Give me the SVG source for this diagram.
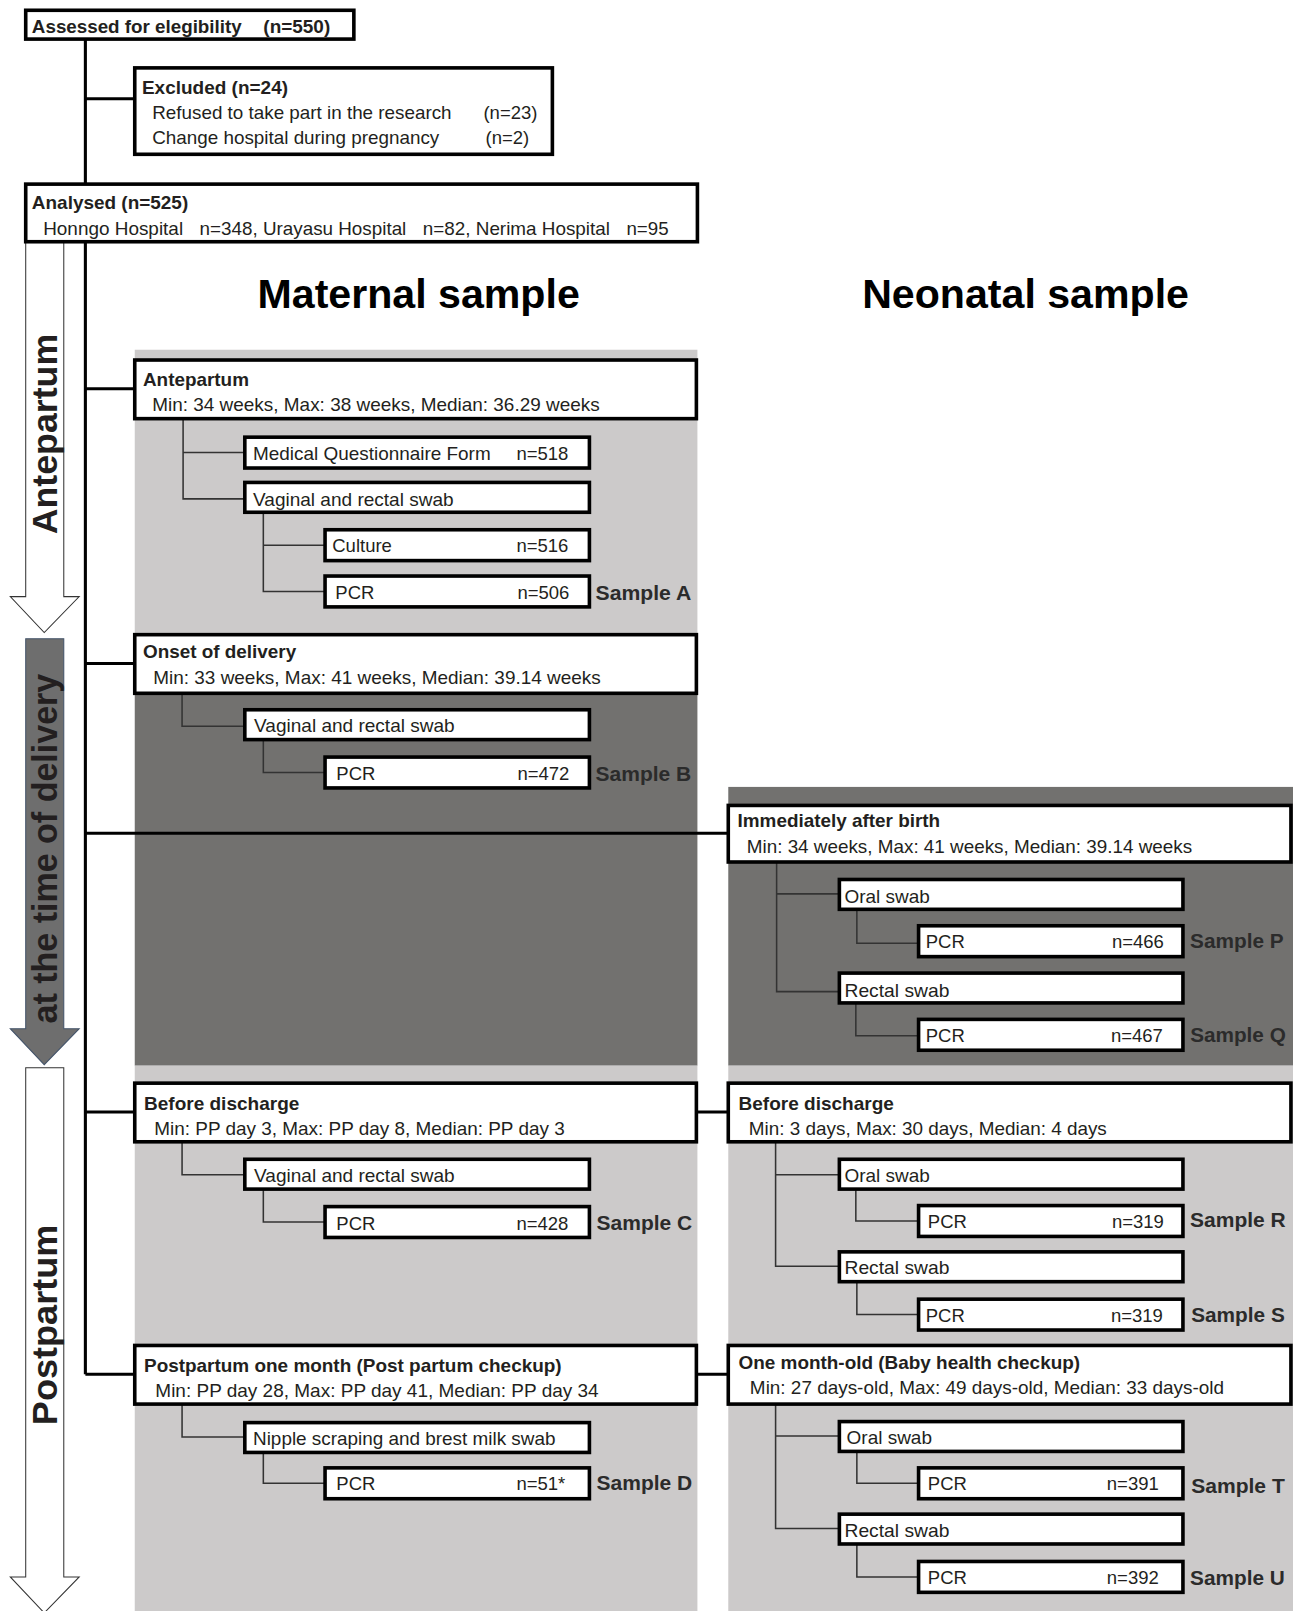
<svg xmlns="http://www.w3.org/2000/svg" width="1293" height="1611" viewBox="0 0 1293 1611">
<style>
text{font-family:"Liberation Sans",Arial,sans-serif;fill:#231f20}
.t{font-size:18px;font-weight:bold}
.s{font-size:18px}
.lab{font-size:20px;font-weight:bold;fill:#2b2b2b}
.hd{font-size:40px;font-weight:bold;fill:#000}
.vt{font-size:34px;font-weight:bold}
.box{fill:#fff;stroke:#000;stroke-width:3.5}
.main{fill:none;stroke:#000;stroke-width:3}
.thin{fill:none;stroke:#333;stroke-width:1.5}
.lg{fill:#cccaca}
.dg{fill:#72716f}
</style>
<rect width="1293" height="1611" fill="#fff"/>
<g transform="scale(1.02864)">
<g id="backgrounds">
<rect class="lg" x="131" y="340" width="547" height="305"/>
<rect class="dg" x="131" y="645" width="547" height="391"/>
<rect class="lg" x="131" y="1036" width="547" height="540"/>
<rect class="dg" x="708" y="765" width="560" height="271"/>
<rect class="lg" x="708" y="1036" width="560" height="540"/>
</g>
<g id="timeline">
<path d="M25,235 V580 H10 L43,615 L77,580 H62 V235" fill="#fff" stroke="#333" stroke-width="1"/>
<text class="vt" transform="translate(55,422) rotate(-90)" text-anchor="middle" textLength="195" lengthAdjust="spacingAndGlyphs">Antepartum</text>
<path d="M25,621 V1000 H10 L43,1035 L77,1000 H62 V621 Z" fill="#6e6e6e" stroke="#44546a" stroke-width="1"/>
<text class="vt" transform="translate(55,825) rotate(-90)" text-anchor="middle" textLength="340" lengthAdjust="spacingAndGlyphs">at the time of delivery</text>
<path d="M25,1038 V1533 H10 L43,1568 L77,1533 H62 V1038 Z" fill="#fff" stroke="#333" stroke-width="1"/>
<text class="vt" transform="translate(55,1288) rotate(-90)" text-anchor="middle" textLength="195" lengthAdjust="spacingAndGlyphs">Postpartum</text>
</g>
<g id="headings">
<text class="hd" x="407" y="299" text-anchor="middle">Maternal sample</text>
<text class="hd" x="997" y="299" text-anchor="middle">Neonatal sample</text>
</g>
<g id="connectors">
<path class="main" d="M83,38 V1336"/>
<path class="main" d="M83,96 H131"/>
<path class="main" d="M83,378 H131"/>
<path class="main" d="M83,645 H131"/>
<path class="main" d="M83,810 H708"/>
<path class="main" d="M83,1081 H131 M677,1081 H708"/>
<path class="main" d="M83,1336 H131 M677,1336 H708"/>
<path class="thin" d="M178,407 V485 H238 M178,440 H238"/>
<path class="thin" d="M256,498 V575 H316 M256,530 H316"/>
<path class="thin" d="M177,674 V706 H238"/>
<path class="thin" d="M256,719 V751 H316"/>
<path class="thin" d="M755,838 V964 H816 M755,869 H816"/>
<path class="thin" d="M833,884 V917 H893"/>
<path class="thin" d="M832,975 V1007 H893"/>
<path class="thin" d="M177,1110 V1142 H238"/>
<path class="thin" d="M256,1156 V1188 H316"/>
<path class="thin" d="M754,1110 V1231 H816 M754,1142 H816"/>
<path class="thin" d="M832,1156 V1187 H893"/>
<path class="thin" d="M833,1246 V1278 H893"/>
<path class="thin" d="M177,1365 V1397 H238"/>
<path class="thin" d="M256,1412 V1442 H316"/>
<path class="thin" d="M754,1365 V1486 H816 M754,1396 H816"/>
<path class="thin" d="M833,1411 V1442 H893"/>
<path class="thin" d="M833,1501 V1533 H893"/>
</g>
<g id="assessed">
<rect class="box" x="25" y="10" width="319" height="28"/>
<text class="t" x="31" y="32" font-size="17" textLength="204" lengthAdjust="spacingAndGlyphs">Assessed for elegibility</text>
<text class="t" x="256" y="32" textLength="65" lengthAdjust="spacingAndGlyphs">(n=550)</text>
</g>
<g id="excluded">
<rect class="box" x="131" y="66" width="406" height="84"/>
<text class="t" x="138" y="91" textLength="142" lengthAdjust="spacingAndGlyphs">Excluded (n=24)</text>
<text class="s" x="148" y="116" textLength="291" lengthAdjust="spacingAndGlyphs">Refused to take part in the research</text>
<text class="s" x="470" y="116">(n=23)</text>
<text class="s" x="148" y="140" textLength="279" lengthAdjust="spacingAndGlyphs">Change hospital during pregnancy</text>
<text class="s" x="472" y="140">(n=2)</text>
</g>
<g id="analysed">
<rect class="box" x="25" y="179" width="653" height="56"/>
<text class="t" x="31" y="203" textLength="152" lengthAdjust="spacingAndGlyphs">Analysed (n=525)</text>
<text class="s" x="42" y="228" textLength="136" lengthAdjust="spacingAndGlyphs">Honngo Hospital</text>
<text class="s" x="194" y="228" textLength="201" lengthAdjust="spacingAndGlyphs">n=348, Urayasu Hospital</text>
<text class="s" x="411" y="228" textLength="182" lengthAdjust="spacingAndGlyphs">n=82, Nerima Hospital</text>
<text class="s" x="609" y="228" textLength="41" lengthAdjust="spacingAndGlyphs">n=95</text>
</g>
<g id="antepartum">
<rect class="box" x="131" y="350" width="546" height="57"/>
<text class="t" x="139" y="375" textLength="103" lengthAdjust="spacingAndGlyphs">Antepartum</text>
<text class="s" x="148" y="400" textLength="435" lengthAdjust="spacingAndGlyphs">Min: 34 weeks, Max: 38 weeks, Median: 36.29 weeks</text>
</g>
<g id="questionnaire">
<rect class="box" x="238" y="425" width="335" height="30"/>
<text class="s" x="246" y="447" textLength="231" lengthAdjust="spacingAndGlyphs">Medical Questionnaire Form</text>
<text class="s" x="502" y="447">n=518</text>
</g>
<g id="swabA">
<rect class="box" x="238" y="469" width="335" height="29"/>
<text class="s" x="246" y="492" textLength="195" lengthAdjust="spacingAndGlyphs">Vaginal and rectal swab</text>
</g>
<g id="culture">
<rect class="box" x="316" y="515" width="257" height="30"/>
<text class="s" x="323" y="537">Culture</text>
<text class="s" x="502" y="537">n=516</text>
</g>
<g id="pcrA">
<rect class="box" x="316" y="560" width="257" height="30"/>
<text class="s" x="326" y="582">PCR</text>
<text class="s" x="503" y="582">n=506</text>
<text class="lab" x="579" y="583" textLength="93" lengthAdjust="spacingAndGlyphs">Sample A</text>
</g>
<g id="onset">
<rect class="box" x="131" y="617" width="546" height="57"/>
<text class="t" x="139" y="640" textLength="149" lengthAdjust="spacingAndGlyphs">Onset of delivery</text>
<text class="s" x="149" y="665" textLength="435" lengthAdjust="spacingAndGlyphs">Min: 33 weeks, Max: 41 weeks, Median: 39.14 weeks</text>
</g>
<g id="swabB">
<rect class="box" x="238" y="690" width="335" height="29"/>
<text class="s" x="247" y="712" textLength="195" lengthAdjust="spacingAndGlyphs">Vaginal and rectal swab</text>
</g>
<g id="pcrB">
<rect class="box" x="316" y="736" width="257" height="30"/>
<text class="s" x="327" y="758">PCR</text>
<text class="s" x="503" y="758">n=472</text>
<text class="lab" x="579" y="759" textLength="93" lengthAdjust="spacingAndGlyphs">Sample B</text>
</g>
<g id="birth">
<rect class="box" x="708" y="783" width="547" height="55"/>
<text class="t" x="717" y="804" textLength="197" lengthAdjust="spacingAndGlyphs">Immediately after birth</text>
<text class="s" x="726" y="829" textLength="433" lengthAdjust="spacingAndGlyphs">Min: 34 weeks, Max: 41 weeks, Median: 39.14 weeks</text>
</g>
<g id="oralP">
<rect class="box" x="816" y="855" width="334" height="29"/>
<text class="s" x="821" y="878" textLength="83" lengthAdjust="spacingAndGlyphs">Oral swab</text>
</g>
<g id="pcrP">
<rect class="box" x="893" y="900" width="257" height="30"/>
<text class="s" x="900" y="922">PCR</text>
<text class="s" x="1081" y="922">n=466</text>
<text class="lab" x="1157" y="922" textLength="91" lengthAdjust="spacingAndGlyphs">Sample P</text>
</g>
<g id="rectalQ">
<rect class="box" x="816" y="946" width="334" height="29"/>
<text class="s" x="821" y="969" textLength="102" lengthAdjust="spacingAndGlyphs">Rectal swab</text>
</g>
<g id="pcrQ">
<rect class="box" x="893" y="991" width="257" height="30"/>
<text class="s" x="900" y="1013">PCR</text>
<text class="s" x="1080" y="1013">n=467</text>
<text class="lab" x="1157" y="1013" textLength="93" lengthAdjust="spacingAndGlyphs">Sample Q</text>
</g>
<g id="dischargeM">
<rect class="box" x="131" y="1053" width="546" height="57"/>
<text class="t" x="140" y="1079" textLength="151" lengthAdjust="spacingAndGlyphs">Before discharge</text>
<text class="s" x="150" y="1103" textLength="399" lengthAdjust="spacingAndGlyphs">Min: PP day 3, Max: PP day 8, Median: PP day 3</text>
</g>
<g id="swabC">
<rect class="box" x="238" y="1127" width="335" height="29"/>
<text class="s" x="247" y="1149" textLength="195" lengthAdjust="spacingAndGlyphs">Vaginal and rectal swab</text>
</g>
<g id="pcrC">
<rect class="box" x="316" y="1173" width="257" height="30"/>
<text class="s" x="327" y="1196">PCR</text>
<text class="s" x="502" y="1196">n=428</text>
<text class="lab" x="580" y="1196" textLength="93" lengthAdjust="spacingAndGlyphs">Sample C</text>
</g>
<g id="dischargeN">
<rect class="box" x="708" y="1053" width="547" height="57"/>
<text class="t" x="718" y="1079" textLength="151" lengthAdjust="spacingAndGlyphs">Before discharge</text>
<text class="s" x="728" y="1103" textLength="348" lengthAdjust="spacingAndGlyphs">Min: 3 days, Max: 30 days, Median: 4 days</text>
</g>
<g id="oralR">
<rect class="box" x="816" y="1127" width="334" height="29"/>
<text class="s" x="821" y="1149" textLength="83" lengthAdjust="spacingAndGlyphs">Oral swab</text>
</g>
<g id="pcrR">
<rect class="box" x="893" y="1172" width="257" height="30"/>
<text class="s" x="902" y="1194">PCR</text>
<text class="s" x="1081" y="1194">n=319</text>
<text class="lab" x="1157" y="1193" textLength="93" lengthAdjust="spacingAndGlyphs">Sample R</text>
</g>
<g id="rectalS">
<rect class="box" x="816" y="1217" width="334" height="29"/>
<text class="s" x="821" y="1239" textLength="102" lengthAdjust="spacingAndGlyphs">Rectal swab</text>
</g>
<g id="pcrS">
<rect class="box" x="893" y="1263" width="257" height="30"/>
<text class="s" x="900" y="1285">PCR</text>
<text class="s" x="1080" y="1285">n=319</text>
<text class="lab" x="1158" y="1285" textLength="91" lengthAdjust="spacingAndGlyphs">Sample S</text>
</g>
<g id="monthM">
<rect class="box" x="131" y="1308" width="546" height="57"/>
<text class="t" x="140" y="1334" textLength="406" lengthAdjust="spacingAndGlyphs">Postpartum one month (Post partum checkup)</text>
<text class="s" x="151" y="1358" textLength="431" lengthAdjust="spacingAndGlyphs">Min: PP day 28, Max: PP day 41, Median: PP day 34</text>
</g>
<g id="nipple">
<rect class="box" x="238" y="1383" width="335" height="29"/>
<text class="s" x="246" y="1405" textLength="294" lengthAdjust="spacingAndGlyphs">Nipple scraping and brest milk swab</text>
</g>
<g id="pcrD">
<rect class="box" x="316" y="1427" width="257" height="30"/>
<text class="s" x="327" y="1449">PCR</text>
<text class="s" x="502" y="1449">n=51*</text>
<text class="lab" x="580" y="1449" textLength="93" lengthAdjust="spacingAndGlyphs">Sample D</text>
</g>
<g id="monthN">
<rect class="box" x="708" y="1308" width="547" height="57"/>
<text class="t" x="718" y="1331" textLength="332" lengthAdjust="spacingAndGlyphs">One month-old (Baby health checkup)</text>
<text class="s" x="729" y="1355" textLength="461" lengthAdjust="spacingAndGlyphs">Min: 27 days-old, Max: 49 days-old, Median: 33 days-old</text>
</g>
<g id="oralT">
<rect class="box" x="816" y="1382" width="334" height="29"/>
<text class="s" x="823" y="1404" textLength="83" lengthAdjust="spacingAndGlyphs">Oral swab</text>
</g>
<g id="pcrT">
<rect class="box" x="893" y="1427" width="257" height="30"/>
<text class="s" x="902" y="1449">PCR</text>
<text class="s" x="1076" y="1449">n=391</text>
<text class="lab" x="1158" y="1451" textLength="91" lengthAdjust="spacingAndGlyphs">Sample T</text>
</g>
<g id="rectalU">
<rect class="box" x="816" y="1472" width="334" height="29"/>
<text class="s" x="821" y="1494" textLength="102" lengthAdjust="spacingAndGlyphs">Rectal swab</text>
</g>
<g id="pcrU">
<rect class="box" x="893" y="1518" width="257" height="30"/>
<text class="s" x="902" y="1540">PCR</text>
<text class="s" x="1076" y="1540">n=392</text>
<text class="lab" x="1157" y="1541" textLength="92" lengthAdjust="spacingAndGlyphs">Sample U</text>
</g>
</g>
</svg>
